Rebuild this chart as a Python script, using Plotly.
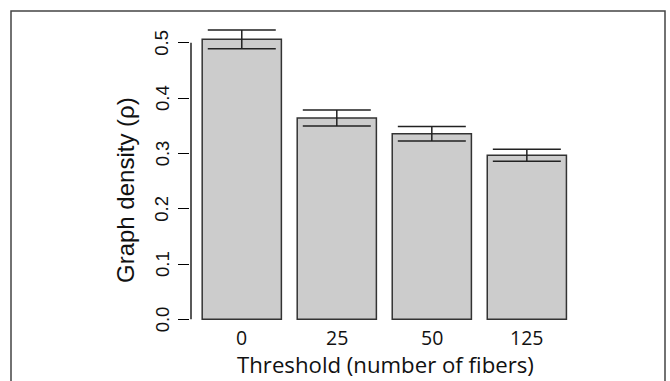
import plotly.graph_objects as go

thresholds = ["0", "25", "50", "125"]
density = [0.506, 0.364, 0.3355, 0.2965]
density_err = [0.017, 0.0145, 0.013, 0.011]
y_ticks = [0.0, 0.1, 0.2, 0.3, 0.4, 0.5]
y_tick_text = ["0.0", "0.1", "0.2", "0.3", "0.4", "0.5"]
x_title = "Threshold (number of fibers)"
y_title = "Graph density (ρ)"

W, H = 670, 381
ML, MR, MT, MB = 190, 89, 20, 50
pw = W - ML - MR
ph = H - MT - MB

fig = go.Figure()
fig.add_trace(go.Bar(
    x=thresholds, y=density,
    marker=dict(color="#cccccc", line=dict(color="#333333", width=1.5)),
    error_y=dict(type="data", array=density_err, visible=True,
                 color="#222222", thickness=1.5, width=34),
    showlegend=False,
))

def px_x(p):
    return (p - ML) / pw

def px_y(p):
    return (H - MB - p) / ph

shapes = [
    # outer frame
    dict(type="rect", xref="paper", yref="paper",
         x0=px_x(11), x1=px_x(665), y0=px_y(11), y1=px_y(395),
         line=dict(color="#444444", width=1.5), layer="below"),
    # R-style y axis line from 0 to 0.5
    dict(type="line", xref="paper", yref="y", x0=px_x(191), x1=px_x(191),
         y0=y_ticks[0], y1=y_ticks[-1], line=dict(color="black", width=1.3)),
]

annotations = [
    dict(text=t, x=px_x(162), y=v, xref="paper", yref="y", textangle=-90,
         showarrow=False, xanchor="center", yanchor="middle",
         font=dict(family="Liberation Sans", size=18.5, color="#111111"))
    for t, v in zip(y_tick_text, y_ticks)
]
annotations += [
    dict(text=t, x=i, y=px_y(337.5), xref="x", yref="paper",
         showarrow=False, xanchor="center", yanchor="middle", borderpad=0,
         font=dict(family="Open Sans", size=19.5, color="#111111"))
    for i, t in enumerate(thresholds)
]
annotations.append(dict(
    text=y_title, x=px_x(125), y=px_y(190), xref="paper", yref="paper",
    textangle=-90, showarrow=False, xanchor="center", yanchor="middle",
    font=dict(family="Liberation Sans", size=24, color="#111111")))
annotations.append(dict(
    text=x_title, x=0.5, y=px_y(381), xref="paper", yref="paper",
    showarrow=False, xanchor="center", yanchor="bottom", borderpad=0,
    font=dict(family="Open Sans", size=22.2, color="#111111")))

fig.update_layout(
    width=W, height=H,
    margin=dict(l=ML, r=MR, t=MT, b=MB),
    paper_bgcolor="white", plot_bgcolor="white",
    bargap=1/6,
    shapes=shapes,
    annotations=annotations,
    xaxis=dict(
        type="category",
        range=[-0.545, 3.57], showline=False, showgrid=False, zeroline=False,
        ticks="", showticklabels=False,
    ),
    yaxis=dict(
        range=[-0.0211, 0.541], showline=False, showgrid=False, zeroline=False,
        tickvals=y_ticks, ticktext=[""] * len(y_ticks), ticks="outside", ticklen=11,
        tickwidth=1.3, tickcolor="black",
    ),
)

fig.write_html("out.html")
